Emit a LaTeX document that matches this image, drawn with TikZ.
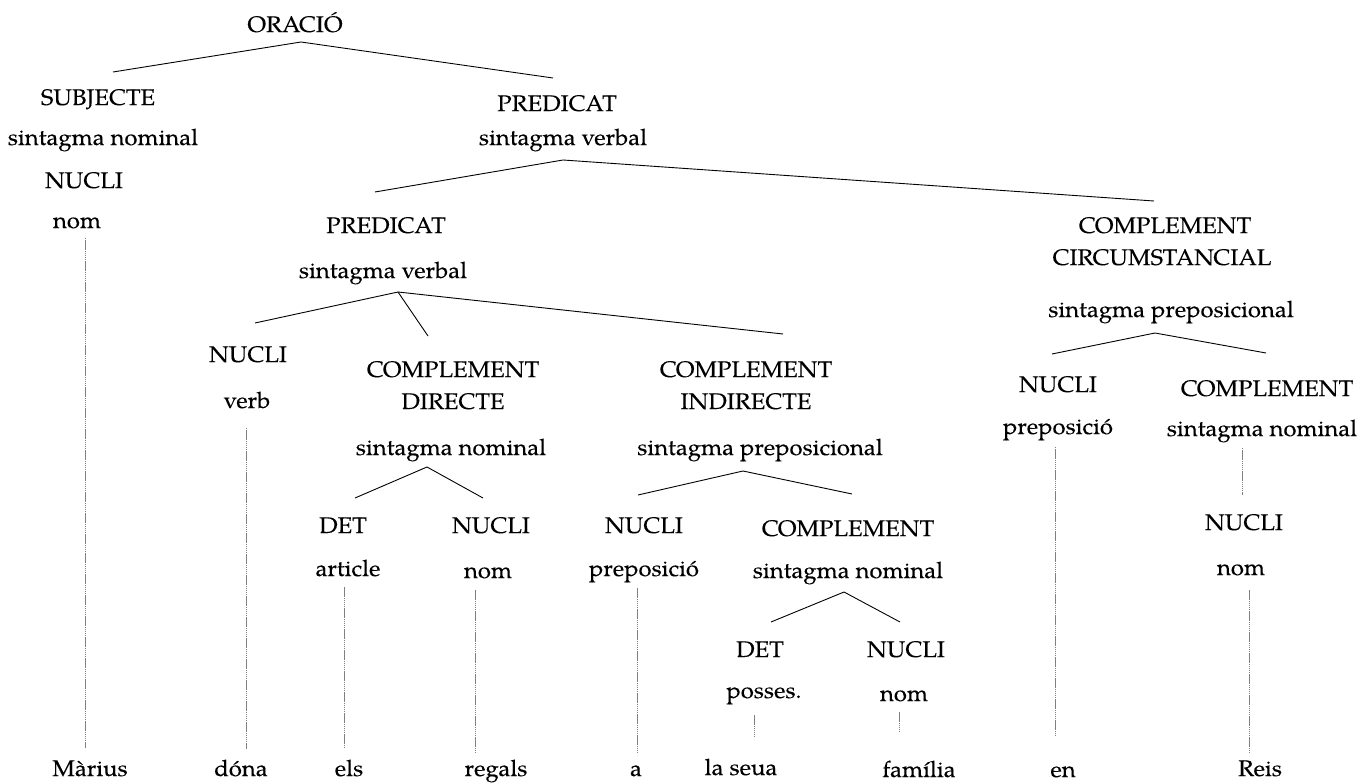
\documentclass[tikz,border=0pt]{standalone}
\usepackage{fontspec}
\setmainfont{TeX Gyre Pagella}[FakeStretch=1.06,FakeBold=0.12]
\begin{document}
\begin{tikzpicture}[x=1pt,y=-1pt,
  lbl/.style={inner sep=0pt, anchor=base, font=\fontsize{22.5}{27}\selectfont},
  branch/.style={line width=0.9pt},
  trace/.style={gray, line width=0.5pt, dash pattern=on 1.5pt off 0.6pt}]
\useasboundingbox (0,0) rectangle (1369,783);

% ---- labels (placed on their baselines) ----
\node[lbl] (orac) at (295,32) {ORACIÓ};
\node[lbl] (subj) at (98,105) {SUBJECTE};
\node[lbl] (subjsn) at (103,145) {sintagma nominal};
\node[lbl] (subjnu) at (84,188) {NUCLI};
\node[lbl] (subjnom) at (77,228) {nom};

\node[lbl] (pred) at (557,111) {PREDICAT};
\node[lbl] (predsv) at (563,145) {sintagma verbal};

\node[lbl] (pred2) at (386,233) {PREDICAT};
\node[lbl] (pred2sv) at (383,278) {sintagma verbal};

\node[lbl] (vnu) at (248,362) {NUCLI};
\node[lbl] (verb) at (247,408) {verb};

\node[lbl] (cd1) at (453,377) {COMPLEMENT};
\node[lbl] (cd2) at (453,409) {DIRECTE};
\node[lbl] (cdsn) at (451,455) {sintagma nominal};
\node[lbl] (cddet) at (343,533) {DET};
\node[lbl] (cdart) at (348,576) {article};
\node[lbl] (cdnu) at (491,533) {NUCLI};
\node[lbl] (cdnom) at (488,578) {nom};

\node[lbl] (ci1) at (746,377) {COMPLEMENT};
\node[lbl] (ci2) at (746,409) {INDIRECTE};
\node[lbl] (cisp) at (760,455) {sintagma preposicional};
\node[lbl] (cinu) at (644,533) {NUCLI};
\node[lbl] (ciprep) at (644,576) {preposició};
\node[lbl] (cic) at (848,536) {COMPLEMENT};
\node[lbl] (cisn) at (848,578) {sintagma nominal};
\node[lbl] (cidet) at (760,657) {DET};
\node[lbl] (cipos) at (764,698) {posses.};
\node[lbl] (cinu2) at (906,657) {NUCLI};
\node[lbl] (cinom) at (904,701) {nom};

\node[lbl] (cc1) at (1165,233) {COMPLEMENT};
\node[lbl] (cc2) at (1162,265) {CIRCUMSTANCIAL};
\node[lbl] (ccsp) at (1171,317) {sintagma preposicional};
\node[lbl] (ccnu) at (1058,392) {NUCLI};
\node[lbl] (ccprep) at (1058,434) {preposició};
\node[lbl] (ccc) at (1267,396) {COMPLEMENT};
\node[lbl] (ccsn) at (1262,436) {sintagma nominal};
\node[lbl] (ccnu2) at (1244,530) {NUCLI};
\node[lbl] (ccnom) at (1241,575) {nom};

% ---- words of the sentence ----
\node[lbl] (w1) at (90,776) {Màrius};
\node[lbl] (w2) at (241,776) {dóna};
\node[lbl] (w3) at (349,776) {els};
\node[lbl] (w4) at (496,776) {regals};
\node[lbl] (w5) at (636,776) {a};
\node[lbl] (w6) at (741,775) {la seua};
\node[lbl] (w7) at (919,777) {família};
\node[lbl] (w8) at (1063,777) {en};
\node[lbl] (w9) at (1260,776) {Reis};

% ---- branch points ----
\coordinate (or-t) at (301,42);  \coordinate (or-l) at (113,72);  \coordinate (or-r) at (553,78);
\coordinate (pv-t) at (563,160); \coordinate (pv-l) at (375,192); \coordinate (pv-r) at (1154,201);
\coordinate (sv-t) at (398,292); \coordinate (sv-a) at (255,323); \coordinate (sv-b) at (428,336); \coordinate (sv-c) at (783,334);
\coordinate (cd-t) at (427,467); \coordinate (cd-l) at (355,498); \coordinate (cd-r) at (483,498);
\coordinate (ci-t) at (743,471); \coordinate (ci-l) at (638,495); \coordinate (ci-r) at (852,494);
\coordinate (cn-t) at (844,592); \coordinate (cn-l) at (771,622); \coordinate (cn-r) at (900,622);
\coordinate (cc-t) at (1155,333); \coordinate (cc-l) at (1052,354); \coordinate (cc-r) at (1266,353);

\draw[branch] (or-l) -- (or-t) -- (or-r);
\draw[branch] (pv-l) -- (pv-t) -- (pv-r);
\draw[branch] (sv-a) -- (sv-t) -- (sv-c);
\draw[branch] (sv-t) -- (sv-b);
\draw[branch] (cd-l) -- (cd-t) -- (cd-r);
\draw[branch] (ci-l) -- (ci-t) -- (ci-r);
\draw[branch] (cn-l) -- (cn-t) -- (cn-r);
\draw[branch] (cc-l) -- (cc-t) -- (cc-r);

% ---- traces down to the words ----
\coordinate (t1a) at (85,238);   \coordinate (t1b) at (85,748);
\coordinate (t2a) at (246,428);  \coordinate (t2b) at (246,749);
\coordinate (t3a) at (344,587);  \coordinate (t3b) at (344,748);
\coordinate (t4a) at (475,590);  \coordinate (t4b) at (475,752);
\coordinate (t5a) at (637,588);  \coordinate (t5b) at (637,752);
\coordinate (t6a) at (754,715);  \coordinate (t6b) at (754,737);
\coordinate (t7a) at (899,712);  \coordinate (t7b) at (899,732);
\coordinate (t8a) at (1055,447); \coordinate (t8b) at (1055,735);
\coordinate (t9a) at (1242,448); \coordinate (t9b) at (1242,495);
\coordinate (t10a) at (1249,590); \coordinate (t10b) at (1249,752);
\foreach \i in {1,...,10} \draw[trace] (t\i a) -- (t\i b);
\end{tikzpicture}
\end{document}
